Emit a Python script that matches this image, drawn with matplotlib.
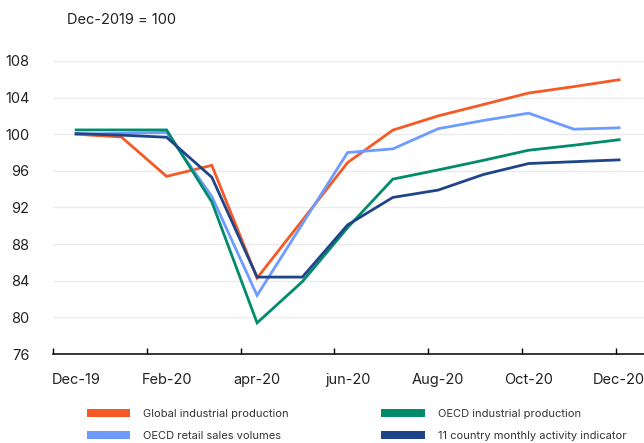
import numpy as np
import matplotlib
matplotlib.use("Agg")
import matplotlib.pyplot as plt
from matplotlib.patches import Patch

plt.rcParams['font.family'] = ['Inter', 'DejaVu Sans']

months = ["Dec-19", "Jan-20", "Feb-20", "Mar-20", "apr-20", "May-20", "jun-20",
          "Jul-20", "Aug-20", "Sep-20", "Oct-20", "Nov-20", "Dec-20"]
shown_labels = ["Dec-19", "Feb-20", "apr-20", "jun-20", "Aug-20", "Oct-20", "Dec-20"]

global_ip = [100.0, 99.7, 95.4, 96.6, 84.3, 90.6, 96.9, 100.45, 102.0, 103.25, 104.5, 105.2, 105.95]
oecd_retail = [100.0, 100.1, 100.2, 93.2, 82.4, 90.2, 98.0, 98.4, 100.6, 101.5, 102.3, 100.55, 100.7]
oecd_ip = [100.47, 100.47, 100.47, 92.6, 79.4, 83.9, 89.8, 95.1, 96.1, 97.15, 98.25, 98.8, 99.4]
activity_11 = [100.07, 99.9, 99.67, 95.3, 84.4, 84.4, 90.1, 93.1, 93.9, 95.6, 96.8, 97.0, 97.2]

series = [
    ("Global industrial production", global_ip, "#f55a24"),
    ("OECD retail sales volumes", oecd_retail, "#6e9bff"),
    ("OECD industrial production", oecd_ip, "#008c6a"),
    ("11 country monthly activity indicator", activity_11, "#1e4588"),
]

x = np.arange(len(months))

fig = plt.figure(figsize=(6.44, 4.43), dpi=100)
ax = fig.add_axes([53 / 644, 1 - 354 / 443, 1 - 53 / 644, (354 - 56.4) / 443])

for name, vals, col in series:
    ax.plot(x, vals, color=col, lw=2.0, solid_joinstyle='miter', label=name)

ax.set_xlim(-0.51, 12.55)
ax.set_ylim(76, 108.5)

ax.set_yticks(np.arange(76, 109, 4))
ax.tick_params(axis='y', length=0, pad=17, labelsize=10.5, labelcolor='#222222')
for yv in range(80, 109, 4):
    ax.axhline(yv, color='#ebebeb', lw=1, zorder=0)

# tick marks sit between the labels, labels on every other month
ax.set_xticks(np.linspace(-0.51, 11.93, 7))
ax.set_xticklabels([])
ax.tick_params(axis='x', which='major', direction='in', length=4.5, width=1, color='black')
label_pos = [months.index(m) for m in shown_labels]
ax.set_xticks(label_pos, minor=True)
ax.set_xticklabels(shown_labels, minor=True)
ax.tick_params(axis='x', which='minor', length=0, pad=14, labelsize=10.5, labelcolor='#222222')

for s in ['top', 'right', 'left']:
    ax.spines[s].set_visible(False)
ax.spines['bottom'].set_color('black')
ax.spines['bottom'].set_linewidth(1.1)

fig.text(67 / 644, 1 - 20 / 443, "Dec-2019 = 100", fontsize=10.5, va='center', ha='left', color='#222222')

handles = [Patch(facecolor=c, edgecolor='none', label=n) for n, _, c in series]
fig.legend(handles=handles, loc='upper left',
           bbox_to_anchor=(87 / 644, 1 - 409 / 443), ncol=2, frameon=False,
           fontsize=8.0, handlelength=3.9, handleheight=0.72, handletextpad=1.17,
           columnspacing=8.3, labelspacing=1.07, borderpad=0, borderaxespad=0,
           labelcolor='#333333')

fig.savefig("out.png", dpi=100)
